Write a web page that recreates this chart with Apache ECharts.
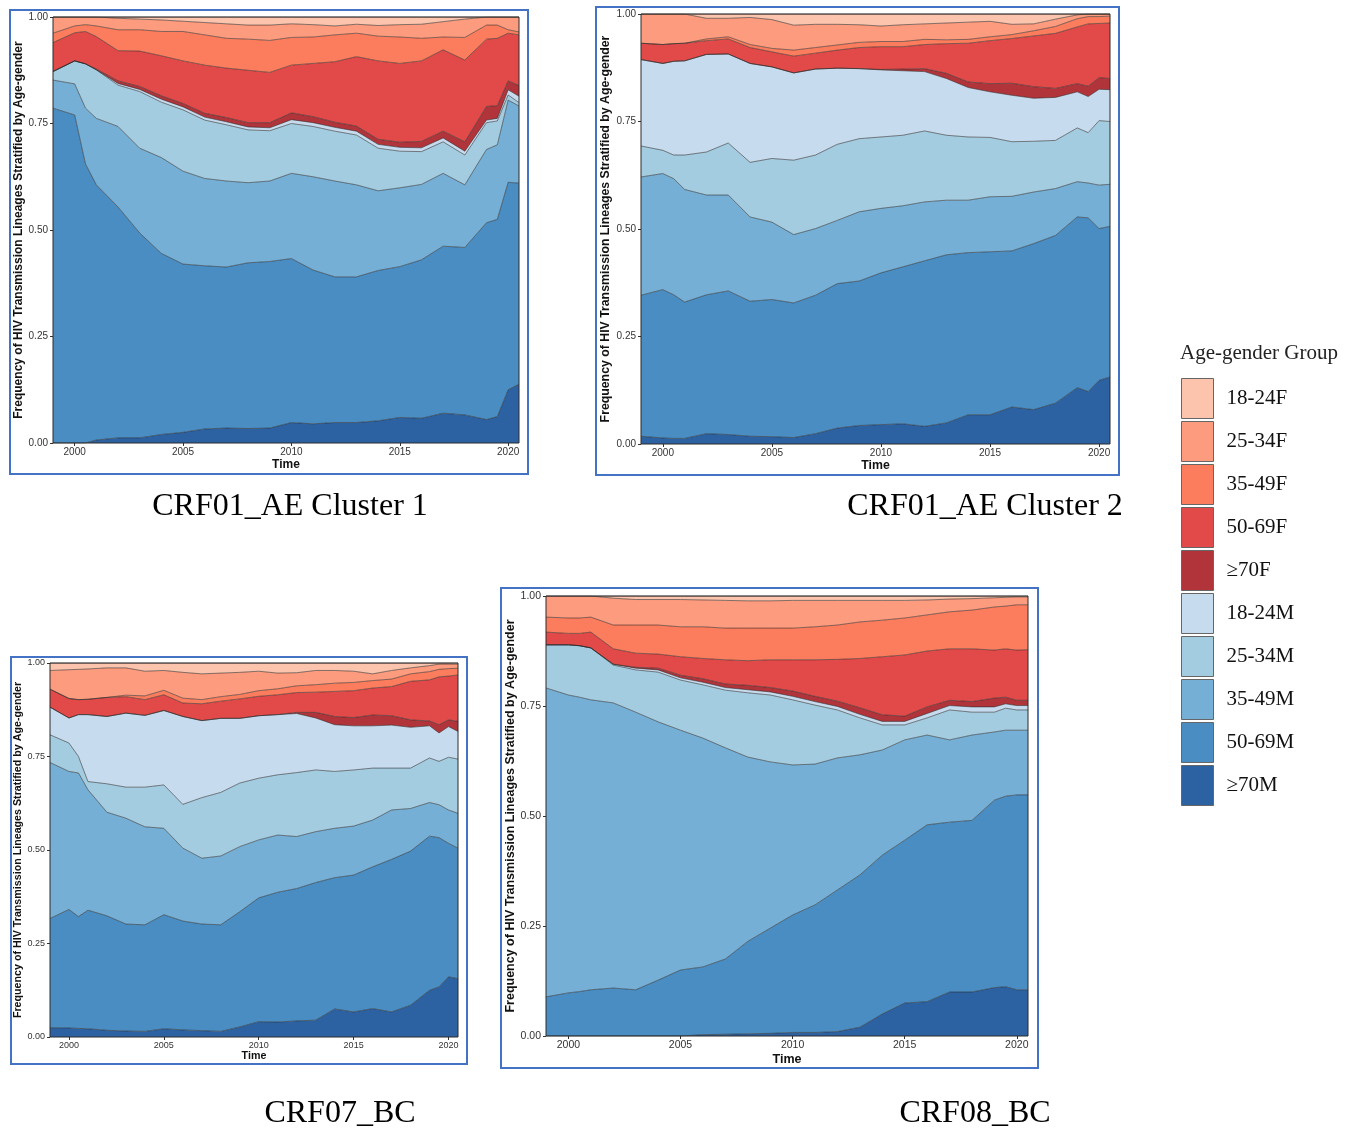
<!DOCTYPE html>
<html>
<head>
<meta charset="utf-8">
<script src="https://cdn.jsdelivr.net/npm/echarts@6/dist/echarts.min.js"></script>
<style>
  html, body { margin: 0; padding: 0; background: #fff; }
  #main { width: 1352px; height: 1131px; }
</style>
</head>
<body>
<div id="main"></div>
<script>
// time points that were read for every panel
const years = [1999, 2000, 2000.5, 2001, 2002, 2003, 2004, 2005, 2006, 2007, 2008, 2009, 2010, 2011, 2012, 2013, 2014, 2015, 2016, 2017, 2018, 2019, 2019.5, 2020, 2020.5];
const yearTicks = [2000, 2005, 2010, 2015, 2020];

// legend order (top of stack first)
const groups = ['18-24F', '25-34F', '35-49F', '50-69F', '≥70F', '18-24M', '25-34M', '35-49M', '50-69M', '≥70M'];
const groupColors = ['#fcc4ad', '#fc9b7e', '#fc7d5d', '#e14a48', '#b1343b', '#c7dbee', '#a4cce0', '#76afd5', '#4a8dc3', '#2d62a2'];

// ---- CRF01_AE Cluster 1 ----
const ae1_F18 = [0, 0, 0, 0, .003, .005, .007, .01, .013, .016, .019, .019, .016, .018, .021, .017, .02, .018, .017, .011, .005, 0, 0, 0, 0];
const ae1_F25 = [.038, .021, .018, .021, .027, .025, .027, .024, .029, .034, .033, .036, .032, .029, .021, .021, .025, .029, .033, .036, .043, .019, .019, .03, .035];
const ae1_F35 = [.022, .016, .016, .025, .049, .05, .057, .069, .071, .07, .073, .075, .065, .062, .063, .055, .058, .062, .053, .03, .053, .033, .031, .008, .007];
const ae1_F50 = [.068, .066, .076, .076, .071, .083, .094, .1, .113, .116, .123, .118, .112, .125, .142, .163, .184, .185, .189, .191, .192, .158, .158, .112, .119];
const ae1_F70 = [0, 0, 0, .002, .006, .007, .008, .008, .009, .01, .01, .012, .016, .014, .012, .012, .012, .012, .015, .016, .022, .032, .03, .021, .025];
const ae1_M18 = [0, 0, 0, 0, .004, .005, .007, .007, .007, .007, .007, .007, .009, .009, .009, .009, .009, .009, .009, .009, .009, .006, .006, .012, .015];
const ae1_M25 = [.02, .054, .104, .114, .097, .133, .13, .144, .137, .132, .124, .118, .117, .118, .117, .117, .1, .086, .077, .074, .07, .063, .056, .012, .008];
const ae1_M35 = [.066, .073, .131, .156, .189, .199, .225, .218, .205, .202, .188, .189, .2, .219, .225, .216, .187, .185, .177, .171, .147, .172, .175, .193, .181];
const ae1_M50 = [.786, .77, .655, .599, .542, .481, .425, .395, .383, .378, .389, .391, .385, .361, .342, .342, .353, .354, .372, .392, .393, .462, .463, .487, .472];
const ae1_M70 = [0, 0, 0, .007, .012, .012, .02, .025, .033, .035, .034, .035, .048, .045, .048, .048, .052, .06, .058, .07, .066, .055, .062, .125, .138];

// ---- CRF01_AE Cluster 2 ----
const ae2_F18 = [0, 0, 0, 0, .01, .01, .008, .013, .026, .024, .024, .025, .028, .025, .023, .021, .019, .017, .024, .023, .012, .002, 0, 0, 0];
const ae2_F25 = [.068, .071, .069, .068, .048, .043, .063, .067, .058, .054, .048, .041, .036, .039, .036, .039, .04, .036, .024, .016, .017, .009, .006, .006, .005];
const ae2_F35 = [0, 0, 0, 0, .004, .005, .007, .008, .014, .013, .012, .012, .012, .012, .012, .009, .009, .009, .009, .012, .016, .019, .017, .016, .016];
const ae2_F50 = [.038, .044, .041, .041, .032, .035, .037, .035, .039, .037, .042, .049, .053, .052, .056, .069, .09, .10, .104, .118, .128, .132, .145, .126, .129];
const ae2_F70 = [0, 0, 0, 0, 0, 0, 0, 0, 0, 0, 0, 0, .001, .004, .007, .012, .013, .019, .028, .027, .021, .019, .024, .027, .026];
const ae2_M18 = [.201, .202, .218, .219, .227, .207, .23, .213, .203, .20, .177, .163, .156, .15, .138, .132, .115, .106, .108, .10, .10, .084, .084, .073, .074];
const ae2_M25 = [.072, .054, .055, .08, .10, .121, .127, .148, .173, .171, .177, .17, .166, .164, .165, .151, .147, .138, .127, .118, .112, .125, .117, .15, .146];
const ae2_M35 = [.275, .27, .27, .262, .232, .223, .196, .18, .159, .155, .147, .161, .15, .142, .137, .127, .122, .128, .127, .12, .109, .082, .081, .101, .098];
const ae2_M50 = [.328, .345, .334, .317, .323, .334, .314, .319, .313, .322, .336, .336, .353, .365, .385, .391, .377, .379, .363, .386, .39, .397, .404, .353, .35];
const ae2_M70 = [.018, .014, .013, .013, .024, .022, .018, .017, .015, .024, .037, .043, .045, .047, .041, .049, .068, .068, .086, .08, .095, .131, .122, .148, .156];

// ---- CRF07_BC ----
const bc7_F18 = [.02, .018, .017, .016, .013, .013, .022, .02, .025, .029, .027, .025, .022, .027, .026, .02, .02, .022, .029, .02, .013, .007, .003, .003, .003];
const bc7_F25 = [.05, .077, .081, .081, .079, .073, .066, .053, .069, .069, .063, .059, .052, .042, .035, .038, .034, .03, .018, .023, .016, .016, .014, .012, .011];
const bc7_F35 = [0, 0, 0, 0, 0, .004, .01, .012, .013, .011, .012, .012, .015, .016, .018, .02, .022, .022, .02, .02, .02, .022, .02, .02, .018];
const bc7_F50 = [.048, .052, .04, .041, .051, .044, .042, .042, .036, .045, .046, .052, .052, .053, .053, .054, .067, .072, .072, .078, .103, .11, .128, .117, .124];
const bc7_F70 = [0, 0, 0, 0, 0, 0, 0, 0, 0, 0, 0, 0, 0, 0, .003, .015, .022, .022, .029, .025, .02, .013, .022, .018, .027];
const bc7_M18 = [.074, .067, .112, .179, .18, .198, .192, .199, .235, .206, .198, .173, .167, .161, .158, .139, .125, .118, .113, .115, .109, .086, .076, .082, .074];
const bc7_M25 = [.074, .076, .044, .022, .076, .083, .106, .116, .117, .162, .17, .17, .165, .161, .171, .165, .152, .15, .139, .112, .108, .119, .116, .141, .145];
const bc7_M35 = [.417, .369, .384, .322, .277, .283, .262, .231, .195, .176, .184, .174, .155, .153, .139, .136, .132, .131, .125, .132, .114, .09, .088, .089, .093];
const bc7_M50 = [.292, .317, .299, .317, .306, .286, .285, .305, .291, .285, .285, .308, .331, .347, .354, .368, .351, .366, .379, .408, .412, .412, .399, .357, .349];
const bc7_M70 = [.025, .024, .023, .022, .018, .016, .015, .022, .019, .017, .015, .027, .041, .04, .043, .045, .075, .067, .076, .067, .085, .125, .134, .161, .156];

// ---- CRF08_BC ----
const bc8_F18 = [0, 0, 0, 0, .005, .008, .008, .008, .009, .01, .011, .011, .01, .01, .01, .01, .01, .01, .009, .007, .006, .004, .003, .002, .002];
const bc8_F25 = [.048, .05, .05, .048, .061, .058, .058, .062, .061, .063, .062, .062, .063, .06, .056, .049, .045, .04, .034, .029, .026, .021, .02, .018, .018];
const bc8_F35 = [.034, .035, .035, .034, .054, .064, .066, .068, .072, .072, .074, .072, .072, .075, .078, .083, .083, .084, .082, .084, .088, .098, .097, .103, .102];
const bc8_F50 = [.029, .026, .028, .036, .035, .032, .032, .042, .046, .055, .056, .063, .071, .083, .095, .112, .132, .139, .127, .117, .12, .109, .11, .114, .115];
const bc8_F70 = [0, 0, 0, 0, 0, .002, .004, .006, .008, .008, .01, .01, .012, .012, .012, .015, .015, .012, .015, .012, .012, .02, .015, .012, .012];
const bc8_M18 = [0, 0, 0, 0, .002, .004, .005, .005, .006, .006, .007, .007, .008, .008, .008, .008, .008, .008, .01, .01, .012, .012, .01, .01, .01];
const bc8_M25 = [.098, .114, .117, .118, .086, .096, .113, .114, .121, .131, .146, .152, .148, .134, .109, .084, .057, .034, .039, .068, .052, .045, .05, .046, .046];
const bc8_M35 = [.702, .677, .669, .659, .648, .631, .587, .545, .52, .48, .419, .378, .341, .32, .30, .273, .239, .228, .204, .187, .194, .155, .15, .147, .147];
const bc8_M50 = [.089, .098, .101, .105, .109, .105, .127, .15, .154, .171, .21, .239, .267, .29, .322, .346, .361, .37, .402, .386, .39, .426, .433, .443, .443];
const bc8_M70 = [0, 0, 0, 0, 0, 0, 0, 0, .003, .004, .005, .006, .008, .008, .01, .02, .05, .075, .078, .1, .1, .11, .112, .105, .105];

const yName = 'Frequency of HIV Transmission Lineages Stratified by Age-gender';
const sans = 'Liberation Sans, Arial, sans-serif';
const serif = 'Liberation Serif, Times New Roman, serif';

// panel layout (grid in px, blue frame, caption)
const panels = [
  { title: 'CRF01_AE Cluster 1', grid: { left: 53, top: 17, width: 466, height: 426 }, frame: [10, 10, 518, 464], cap: [290, 507],
    fs: 10, nfs: 12, yGap: 28, xGap: 16,
    vals: [ae1_F18, ae1_F25, ae1_F35, ae1_F50, ae1_F70, ae1_M18, ae1_M25, ae1_M35, ae1_M50, ae1_M70] },
  { title: 'CRF01_AE Cluster 2', grid: { left: 641, top: 14, width: 469, height: 430 }, frame: [596, 7, 523, 468], cap: [985, 507],
    fs: 10, nfs: 12.3, yGap: 29, xGap: 16,
    vals: [ae2_F18, ae2_F25, ae2_F35, ae2_F50, ae2_F70, ae2_M18, ae2_M25, ae2_M35, ae2_M50, ae2_M70] },
  { title: 'CRF07_BC', grid: { left: 50, top: 663, width: 408, height: 374 }, frame: [11, 657, 456, 407], cap: [340, 1114],
    fs: 9, nfs: 10.7, yGap: 26, xGap: 14,
    vals: [bc7_F18, bc7_F25, bc7_F35, bc7_F50, bc7_F70, bc7_M18, bc7_M25, bc7_M35, bc7_M50, bc7_M70] },
  { title: 'CRF08_BC', grid: { left: 546, top: 596, width: 482, height: 440 }, frame: [501, 588, 537, 480], cap: [975, 1114],
    fs: 10.5, nfs: 12.5, yGap: 29, xGap: 17,
    vals: [bc8_F18, bc8_F25, bc8_F35, bc8_F50, bc8_F70, bc8_M18, bc8_M25, bc8_M35, bc8_M50, bc8_M70] }
];

const chart = echarts.init(document.getElementById('main'), null, { renderer: 'canvas' });

const grids = [], xAxes = [], yAxes = [], series = [], graphics = [];

panels.forEach((p, pi) => {
  grids.push(Object.assign({ show: true, z: 10, borderColor: '#2b2b2b', borderWidth: 1, backgroundColor: 'transparent' }, p.grid));
  xAxes.push({
    type: 'value', gridIndex: pi, min: 1999, max: 2020.5,
    name: 'Time', nameLocation: 'middle', nameGap: p.xGap,
    nameTextStyle: { fontFamily: sans, fontWeight: 'bold', fontSize: p.nfs, color: '#111' },
    axisLine: { show: false },
    axisTick: { show: true, length: 3, customValues: yearTicks, lineStyle: { color: '#333' } },
    axisLabel: { customValues: yearTicks, fontFamily: sans, fontSize: p.fs, color: '#333', margin: 4, formatter: v => String(v) },
    splitLine: { show: false }
  });
  yAxes.push({
    type: 'value', gridIndex: pi, min: 0, max: 1, interval: 0.25,
    name: yName, nameLocation: 'middle', nameGap: p.yGap,
    nameTextStyle: { fontFamily: sans, fontWeight: 'bold', fontSize: p.nfs, color: '#111' },
    axisLine: { show: false },
    axisTick: { show: true, length: 3, lineStyle: { color: '#333' } },
    axisLabel: { fontFamily: sans, fontSize: p.fs, color: '#333', margin: 5, formatter: v => v.toFixed(2) },
    splitLine: { show: false }
  });
  // stack from the bottom group (≥70M) upward.
  // share goes in column 0 so the library stacks it (not the year column).
  for (let g = groups.length - 1; g >= 0; g--) {
    const vals = p.vals[g];
    series.push({
      name: groups[g], type: 'line', xAxisIndex: pi, yAxisIndex: pi, stack: 'panel' + pi,
      symbol: 'none', smooth: false, silent: true,
      encode: { x: 1, y: 0 },
      data: years.map((yr, i) => [vals[i], yr]),
      itemStyle: { color: groupColors[g] },
      lineStyle: { width: 0.8, color: 'rgba(40,40,40,0.72)' },
      areaStyle: { color: groupColors[g], opacity: 1 },
      emphasis: { disabled: true }
    });
  }
  graphics.push({
    type: 'rect', z: 20, silent: true,
    shape: { x: p.frame[0], y: p.frame[1], width: p.frame[2], height: p.frame[3] },
    style: { fill: null, stroke: '#4472c4', lineWidth: 2 }
  });
  graphics.push({
    type: 'text', z: 20, silent: true,
    style: { text: p.title, x: p.cap[0], y: p.cap[1], align: 'center', verticalAlign: 'middle', textAlign: 'center', textVerticalAlign: 'middle',
             fontFamily: serif, fontSize: 32, fill: '#000' }
  });
});

graphics.push({
  type: 'text', z: 20, silent: true,
  style: { text: 'Age-gender Group', x: 1180, y: 353, align: 'left', verticalAlign: 'middle', textAlign: 'left', textVerticalAlign: 'middle',
           fontFamily: serif, fontSize: 21, fill: '#222' }
});

chart.setOption({
  animation: false,
  backgroundColor: '#fff',
  grid: grids,
  xAxis: xAxes,
  yAxis: yAxes,
  series: series,
  graphic: graphics,
  legend: {
    data: groups, orient: 'vertical', left: 1181, top: 378, padding: 0,
    itemWidth: 32, itemHeight: 40, itemGap: 2, icon: 'rect', selectedMode: false,
    itemStyle: { borderColor: '#666', borderWidth: 1 },
    textStyle: { fontFamily: serif, fontSize: 21, color: '#111', padding: [0, 0, 0, 8] }
  }
});
</script>
</body>
</html>
